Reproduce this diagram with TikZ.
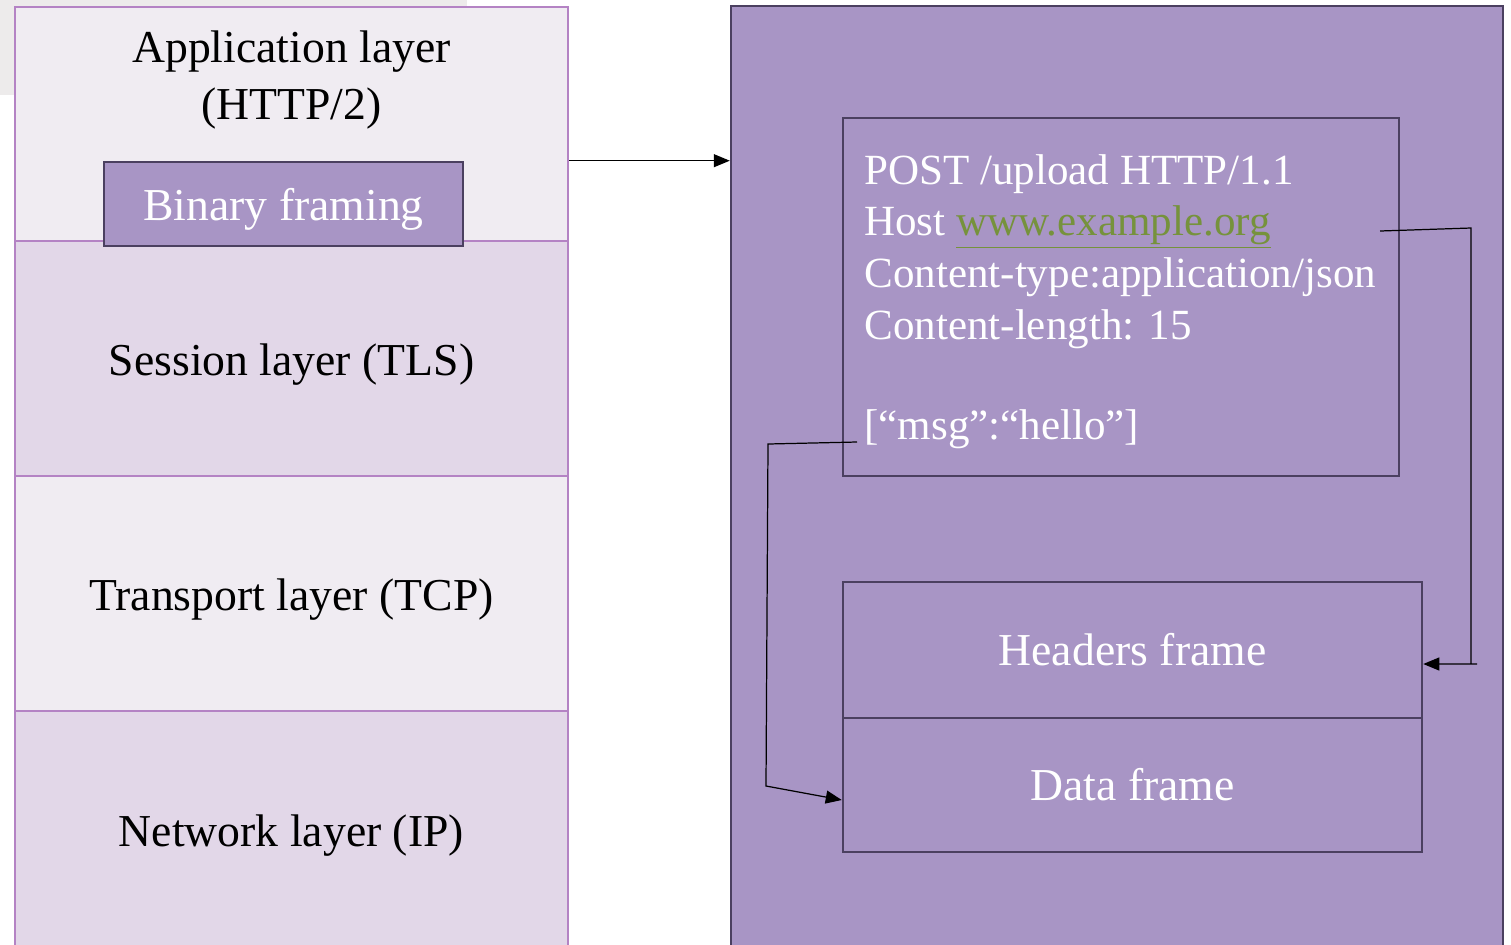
\documentclass[tikz,border=0pt]{standalone}
\usepackage{fontspec}
\setmainfont{Liberation Serif}
\usetikzlibrary{arrows.meta}

\definecolor{lightlay}{HTML}{F0ECF2}
\definecolor{midlay}{HTML}{E2D7E8}
\definecolor{layline}{HTML}{B483C4}
\definecolor{framefill}{HTML}{A895C5}
\definecolor{frameline}{HTML}{4B4060}
\definecolor{bggray}{HTML}{EDEBEB}
\definecolor{linkgreen}{HTML}{76923C}

\begin{document}
\begin{tikzpicture}[x=0.02cm, y=-0.02cm,
    layer/.style={draw=layline, line width=1.4pt, minimum width=11.06cm, inner sep=0pt},
    framebox/.style={draw=frameline, fill=framefill, line width=1.5pt, inner sep=0pt},
    big/.style={font=\fontsize{26}{33}\selectfont},
    msgfont/.style={font=\fontsize{24.5}{29.5}\selectfont, text=white, inner sep=0pt},
    conn/.style={line width=0.7pt, -{Triangle[length=0.32cm, width=0.26cm]}}]
      \useasboundingbox (0,0) rectangle (1511,944);
      \fill [bggray] (0,0) rectangle (467,95);
      % protocol stack
      \node [layer, fill=lightlay, minimum height=4.68cm] (app) at (291.5,124) {};
      \node [layer, fill=midlay, minimum height=4.70cm] (tls) at (291.5,358.5) {};
      \node [layer, fill=lightlay, minimum height=4.70cm] (tcp) at (291.5,593.5) {};
      \node [layer, fill=midlay, minimum height=4.80cm] (ip) at (291.5,831) {};
      \node [big, align=center] (applbl) at (291.5,80) {Application layer\\(HTTP/2)};
      \node [big, yshift=-0.12cm] at (tls) {Session layer (TLS)};
      \node [big, yshift=-0.12cm] at (tcp) {Transport layer (TCP)};
      \node [big, yshift=-0.09cm] at (ip) {Network layer (IP)};
      \node [framebox, big, text=white, text depth=0pt, minimum width=7.18cm, minimum height=1.68cm] (bin) at (283.5,204) {Binary framing};
      % http/2 side
      \node [framebox, minimum width=15.44cm, minimum height=18.9cm] (http2) at (1117,478.5) {};
      \node [framebox, minimum width=11.12cm, minimum height=7.16cm] (msg) at (1121,297) {};
      \foreach \txt [count=\i] in {POST /upload HTTP/1.1,
          Host {\color{linkgreen}\underline{www.example.org}},
          Content-type:application/json,
          Content-length: 15} {
        \node [msgfont, anchor=base west] (line\i) at (864, 184+51.7*\i-51.7) {\txt};
      }
      \node [msgfont, anchor=base west] (body) at (864,439) {[“msg”:“hello”]};
      \node [framebox, big, text=white, minimum width=11.58cm, minimum height=2.72cm] (hdr) at (1132.5,650) {Headers frame};
      \node [framebox, big, text=white, minimum width=11.58cm, minimum height=2.68cm] (data) at (1132.5,785) {Data frame};
      % connectors
      \coordinate (hstart) at (1380,231);
      \coordinate (bstart) at (857,442);
      \draw [conn] (app.east |- bin.north) -- (http2.west |- bin.north);
      \draw [conn] (hstart) -- (1471,228) -- (1471,664) -- (1477,664) -- ([yshift=-0.28cm]hdr.east);
      \draw [conn] (bstart) -- (768,444) -- (766,786) -- ([yshift=-0.3cm]data.west);
\end{tikzpicture}
\end{document}
